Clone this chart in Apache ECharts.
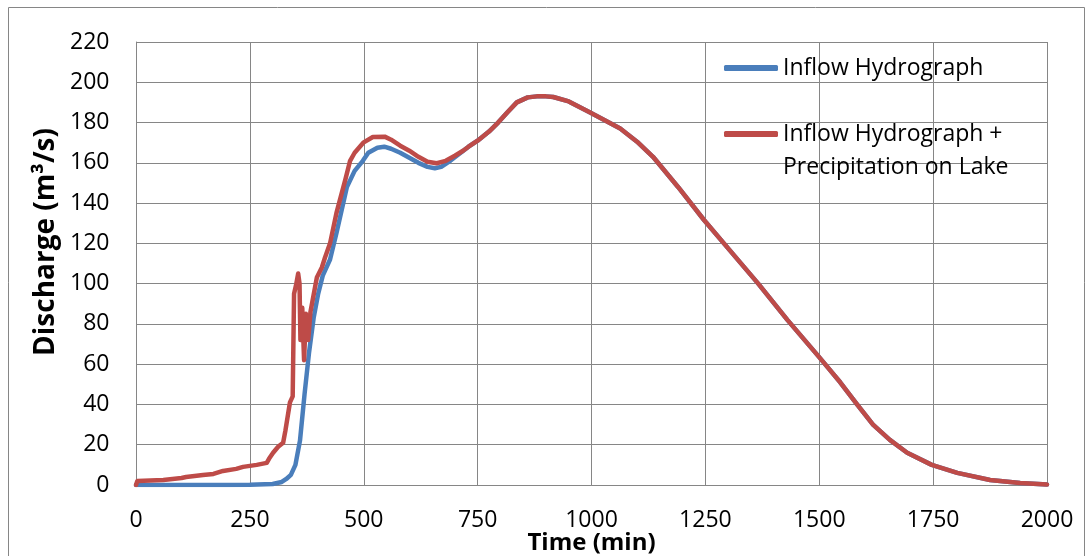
<!DOCTYPE html>
<html>
<head>
<meta charset="utf-8">
<script src="https://cdn.jsdelivr.net/npm/echarts@6/dist/echarts.min.js"></script>
<style>
html,body{margin:0;padding:0;background:#fff;}
#chart{width:1092px;height:556px;}
</style>
</head>
<body>
<div id="chart"></div>
<script>
// Inflow Hydrograph
const timeBlue = [0,100,200,250,300,320,330,340,350,360,370,380,390,400,410,426,440,463,480,498,510,530,545,560,580,600,620,640,656,670,690,710,730,750,775,795,815,836,860,880,900,916,950,997,1030,1063,1100,1135,1190,1247,1300,1366,1430,1498,1546,1583,1618,1655,1693,1747,1803,1875,1941,2000];
const blueQ    = [0,0,0,0.1,0.5,1.5,3,5,10,22,45,66,83,95,104,112,125,148,156,161,165,167.5,168,167,165,162.5,160,158,157.3,158,161,164.5,168,171,175.5,180,185,190,192.5,193,193,192.7,190.5,185,181,177,170.5,163,148,131.6,117.5,100,82,64,51,40,30,22.4,16,10,6,2.5,1,0.2];
// Inflow Hydrograph + Precipitation on Lake
const timeRed = [0,3,60,100,110,147,170,191,220,235,265,287,292,301,312,323,328,338,344,347,352,356,359,361,365,369,373,378,383,388,397,408,415,426,440,460,470,480,499,520,546,560,580,600,620,640,660,680,700,718,730,750,775,795,815,836,860,880,900,916,950,997,1030,1063,1100,1135,1190,1247,1300,1366,1430,1498,1546,1583,1618,1655,1693,1747,1803,1875,1941,2000];
const redQ    = [0,2,2.5,3.5,4,5,5.5,7,8,9,10,11,13,16,19,21,27,41,44,95,100,105,100,72,88,62,85,72,86,92,103,108,113,120,135,152,161,165,170,172.8,173,171.5,168.5,166,163,160.5,159.8,161,163.5,166,168,171,175.5,180,185,190,192.5,193,193,192.7,190.5,185,181,177,170.5,163,148,131.6,117.5,100,82,64,51,40,30,22.4,16,10,6,2.5,1,0.2];
const seriesNames = ['Inflow Hydrograph', 'Inflow Hydrograph +\nPrecipitation on Lake'];
const xTicks = {min:0, max:2000, interval:250};
const yTicks = {min:0, max:220, interval:20};

const pairs = (t, v) => t.map((x, i) => [x, v[i]]);
const FONT = '"Open Sans", "Liberation Sans", sans-serif';
const GRID = '#868686';
const legendText = {fontFamily:FONT, fontSize:23, color:'#000', lineHeight:33};

const chart = echarts.init(document.getElementById('chart'), null, {renderer:'canvas'});
chart.setOption({
  animation:false,
  backgroundColor:'#fff',
  textStyle:{fontFamily:FONT},
  grid:{left:136, right:45, top:42, bottom:71, containLabel:false, outerBoundsMode:'none'},
  xAxis:{
    type:'value', min:xTicks.min, max:xTicks.max, interval:xTicks.interval,
    name:'Time (min)', nameLocation:'middle', nameGap:46, nameMoveOverlap:false,
    nameTextStyle:{fontFamily:FONT, fontWeight:'bold', fontSize:24, color:'#000'},
    axisLine:{show:true, lineStyle:{color:GRID, width:1}},
    axisTick:{show:false},
    axisLabel:{fontFamily:FONT, fontSize:23, color:'#000', margin:23.5, formatter:v => String(v)},
    splitLine:{show:true, lineStyle:{color:GRID, width:1}}
  },
  yAxis:{
    type:'value', min:yTicks.min, max:yTicks.max, interval:yTicks.interval,
    name:'Discharge (m³/s)', nameLocation:'middle', nameGap:75.5, nameMoveOverlap:false,
    nameTextStyle:{fontFamily:FONT, fontWeight:'bold', fontSize:28, color:'#000', padding:[0,0,0,43]},
    axisLine:{show:true, lineStyle:{color:GRID, width:1}},
    axisTick:{show:false},
    axisLabel:{fontFamily:FONT, fontSize:23, color:'#000', margin:26.5, formatter:v => String(v)},
    splitLine:{show:true, lineStyle:{color:GRID, width:1}}
  },
  legend:[
    {
      data:[{name:seriesNames[0]}],
      left:724, top:51.5, orient:'vertical', padding:0,
      itemWidth:54, itemHeight:6, itemGap:0,
      icon:'roundRect',
      textStyle:legendText
    },
    {
      data:[{name:seriesNames[1]}],
      formatter:name => ' \n' + name,
      left:724, top:84.5, orient:'vertical', padding:0,
      itemWidth:54, itemHeight:6, itemGap:0,
      icon:'roundRect',
      textStyle:legendText
    }
  ],
  series:[
    {
      name:seriesNames[0], type:'line', data:pairs(timeBlue, blueQ),
      showSymbol:false, symbol:'none', smooth:false,
      lineStyle:{color:'#4A7EBB', width:4.5, cap:'round', join:'round'},
      itemStyle:{color:'#4A7EBB'}
    },
    {
      name:seriesNames[1], type:'line', data:pairs(timeRed, redQ),
      showSymbol:false, symbol:'none', smooth:false,
      lineStyle:{color:'#BE4B48', width:4.5, cap:'round', join:'round'},
      itemStyle:{color:'#BE4B48'}
    }
  ],
  graphic:[
    {type:'rect', silent:true, z:-1, shape:{x:8.5, y:7.5, width:1076, height:570}, style:{fill:null, stroke:GRID, lineWidth:1}}
  ]
});
</script>
</body>
</html>
